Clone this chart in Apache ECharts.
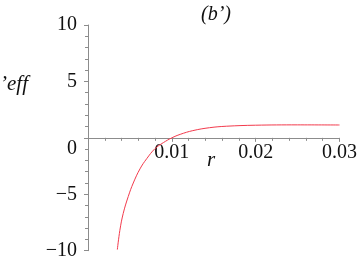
<!DOCTYPE html>
<html>
<head>
<meta charset="utf-8">
<script src="https://cdn.jsdelivr.net/npm/echarts@6/dist/echarts.min.js"></script>
<style>
html,body{margin:0;padding:0;background:#fff;}
#c{width:357px;height:259px;}
</style>
</head>
<body>
<div id="c"></div>
<script>
var rValues = [0.0035, 0.0038, 0.0042, 0.0048, 0.0054, 0.0062, 0.0070, 0.0080, 0.0090, 0.0100, 0.0110, 0.0125, 0.0145, 0.0165, 0.0200, 0.0250, 0.0300];
var effValues = [-9.9, -8.2, -6.7, -5.2, -4.0, -2.75, -1.85, -0.95, -0.42, 0.0, 0.31, 0.64, 0.90, 1.03, 1.12, 1.15, 1.14];
var xTicks = [0.01, 0.02, 0.03];
var yTicks = [-10, -5, 0, 5, 10];
var titleText = "(b\u2019)";
var yName = "\u2019eff";
var xName = "r";

var fontFam = '"Liberation Serif", "Times New Roman", Times, serif';
var axisCol = '#8c8c8c';
var gridTop = 25, gridBottom = 8.3, H = 259;
var zeroOffset = -((H - gridTop - gridBottom) / 2);
var chart = echarts.init(document.getElementById('c'), null, {renderer: 'canvas'});
var data = rValues.map(function (r, i) { return [r, effValues[i]]; });

chart.setOption({
  animation: false,
  backgroundColor: '#fff',
  title: {
    text: titleText,
    left: 211, top: 0, textAlign: 'center',
    textStyle: {fontFamily: fontFam, fontStyle: 'italic', fontWeight: 'normal', fontSize: 20, color: '#111'}
  },
  graphic: [{
    type: 'text', left: 0, top: 74,
    style: {text: yName, fontFamily: fontFam, fontStyle: 'italic', fontSize: 21, fill: '#111'}
  }, {
    type: 'text', left: 207, top: 150,
    style: {text: xName, fontFamily: fontFam, fontStyle: 'italic', fontSize: 21, fill: '#111'}
  }],
  grid: {left: 88, right: 17.5, top: gridTop, bottom: gridBottom, containLabel: false, outerBoundsMode: 'none'},
  xAxis: {
    type: 'value', min: 0, max: 0.03, interval: 0.01,
    position: 'bottom', offset: zeroOffset,
    axisLine: {show: true, onZero: false, lineStyle: {color: axisCol, width: 1}},
    axisTick: {show: true, length: 4, lineStyle: {color: axisCol}},
    minorTick: {show: true, splitNumber: 5, length: 3, lineStyle: {color: axisCol}},
    splitLine: {show: false},
    axisLabel: {
      margin: 5, fontFamily: fontFam, fontSize: 20, color: '#111',
      formatter: function (v) { return xTicks.indexOf(+v.toFixed(4)) >= 0 ? v.toFixed(2) : ''; }
    }
  },
  yAxis: {
    type: 'value', min: -10, max: 10, interval: 5,
    axisLine: {show: true, onZero: false, lineStyle: {color: axisCol, width: 1}},
    axisTick: {show: true, length: 4, lineStyle: {color: axisCol}},
    minorTick: {show: true, splitNumber: 5, length: 3, lineStyle: {color: axisCol}},
    splitLine: {show: false},
    axisLabel: {
      margin: 11, fontFamily: fontFam, fontSize: 20, color: '#111',
      formatter: function (v) {
        if (yTicks.indexOf(v) < 0) return '';
        if (v === 0) return '{z|0}';
        return String(v).replace('-', '\u2212');
      },
      rich: {z: {fontFamily: fontFam, fontSize: 20, color: '#111', padding: [22, 0, 0, 0]}}
    }
  },
  series: [{
    type: 'line', data: data, smooth: 0.4, showSymbol: false,
    lineStyle: {color: '#f23a4c', width: 1}
  }]
});
</script>
</body>
</html>
